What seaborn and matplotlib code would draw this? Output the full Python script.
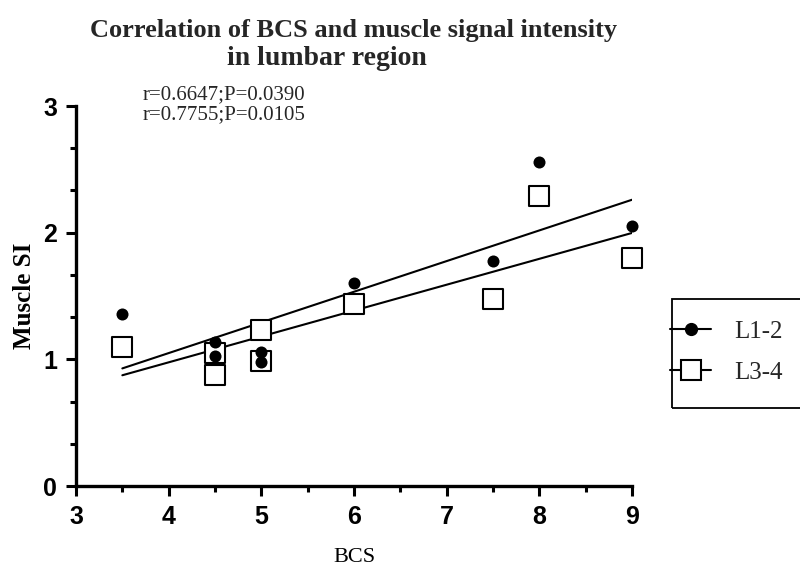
import matplotlib
matplotlib.use("Agg")
import matplotlib.pyplot as plt
import seaborn as sns
import pandas as pd
from matplotlib.lines import Line2D
from matplotlib.patches import Rectangle
from matplotlib.ticker import MultipleLocator

bcs_l12 = [3.5, 4.5, 4.5, 5.0, 5.0, 6.0, 7.5, 8.0, 9.0]
si_l12 = [1.36, 1.14, 1.03, 1.06, 0.98, 1.60, 1.78, 2.56, 2.05]
bcs_l34 = [3.5, 4.5, 4.5, 5.0, 5.0, 6.0, 7.5, 8.0, 9.0]
si_l34 = [1.10, 1.05, 0.88, 1.23, 0.99, 1.44, 1.48, 2.29, 1.80]
series_names = ["L1-2", "L3-4"]
annotations = ["r=0.6647;P=0.0390", "r=0.7755;P=0.0105"]
x_ticks = [3, 4, 5, 6, 7, 8, 9]
y_ticks = [0, 1, 2, 3]

sns.set_theme(style="ticks")
plt.rcParams['font.family'] = ['Liberation Serif', 'DejaVu Serif']

df1 = pd.DataFrame({"BCS": bcs_l12, "SI": si_l12})
df2 = pd.DataFrame({"BCS": bcs_l34, "SI": si_l34})

W, H = 800, 566
fig = plt.figure(figsize=(8, 5.66), dpi=100)
ax = fig.add_axes([76/W, 1-486/H, (632-76)/W, (486-106)/H])

sns.regplot(data=df1, x="BCS", y="SI", ax=ax, ci=None, scatter=False,
            line_kws=dict(color="black", lw=1.5))
sns.regplot(data=df2, x="BCS", y="SI", ax=ax, ci=None, scatter=False,
            line_kws=dict(color="black", lw=1.5))
sns.scatterplot(data=df2, x="BCS", y="SI", ax=ax, marker="s", s=220,
                facecolor="white", edgecolor="black", linewidth=1.5,
                zorder=3, clip_on=False)
sns.scatterplot(data=df1, x="BCS", y="SI", ax=ax, marker="o", s=75,
                color="black", edgecolor="black", linewidth=0,
                zorder=4, clip_on=False)

ax.set_xlim(3, 9)
ax.set_ylim(0, 3)
ax.set_xticks(x_ticks)
ax.set_yticks(y_ticks)
ax.xaxis.set_minor_locator(MultipleLocator(0.5))
ax.yaxis.set_minor_locator(MultipleLocator(1/3))
for lab in ax.get_xticklabels() + ax.get_yticklabels():
    lab.set_fontfamily("Liberation Sans")
    lab.set_fontweight("bold")
    lab.set_fontsize(18)
ax.tick_params(axis="both", which="major", direction="out", length=7.5,
               width=2.2, pad=6, colors="black")
ax.tick_params(axis="both", which="minor", direction="out", length=4,
               width=2.2, colors="black")
for side in ["top", "right"]:
    ax.spines[side].set_visible(False)
for side in ["left", "bottom"]:
    ax.spines[side].set_linewidth(2.4)
    ax.spines[side].set_color("black")
    ax.spines[side].set_capstyle("projecting")

ax.set_xlabel("BCS", fontsize=16, labelpad=14, color="black")
ax.set_ylabel("Muscle SI", fontsize=18, fontweight="bold", labelpad=5, color="black")

fig.text(354/W, 1-37/H, "Correlation of BCS and muscle signal intensity",
         ha="center", va="baseline", fontsize=19, fontweight="bold")
fig.text(327/W, 1-65/H, "in lumbar region",
         ha="center", va="baseline", fontsize=20, fontweight="bold")
fig.text(224/W, 1-95/H, annotations[0], ha="center", va="center", fontsize=15)
fig.text(224/W, 1-115/H, annotations[1], ha="center", va="center", fontsize=15)

handles = [
    Line2D([], [], color="black", lw=1.5, marker="o", markersize=8.5,
           markerfacecolor="black", markeredgecolor="black"),
    Line2D([], [], color="black", lw=1.5, marker="s", markersize=14,
           markerfacecolor="white", markeredgecolor="black", markeredgewidth=1.5),
]
leg = fig.legend(handles, series_names, loc="center left",
                 bbox_to_anchor=(670/W, 1-352/H), frameon=False,
                 fontsize=18, handlelength=1.65, handletextpad=0.9,
                 labelspacing=0.75, borderpad=0, borderaxespad=0)
fig.patches.append(Rectangle((672/W, 1-408/H), 0.3, (408-299)/H,
                             transform=fig.transFigure, fill=False,
                             edgecolor="black", linewidth=1.3))

fig.savefig("out.png", dpi=100)
